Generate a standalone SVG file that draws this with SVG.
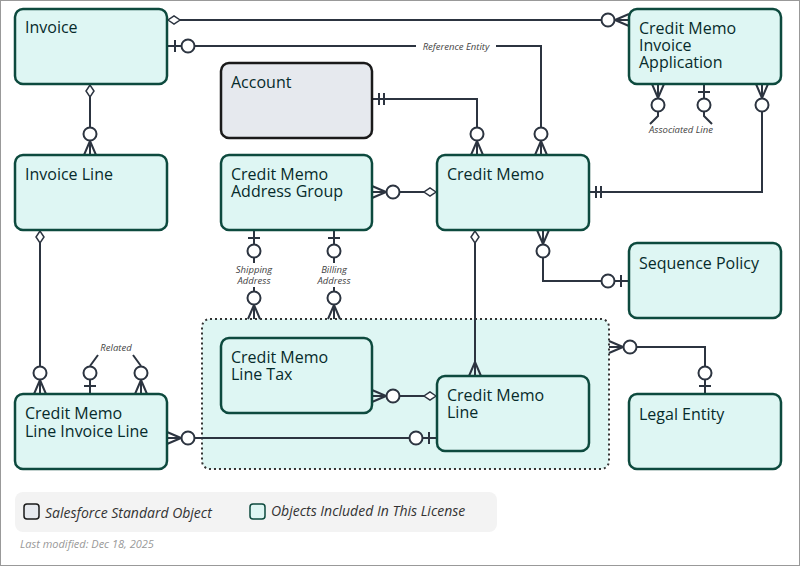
<svg xmlns="http://www.w3.org/2000/svg" width="800" height="566" viewBox="0 0 800 566">
<style>
.n{fill:#def6f3;stroke:#0d4a3e;stroke-width:2.5}
.a{fill:#e6e9ee;stroke:#1a1a1a;stroke-width:2.5}
.t{font-family:"Open Sans","Noto Sans",sans-serif;font-size:16px;fill:#062b2b}
.l{fill:none;stroke:#2c3440;stroke-width:2}
.lb{font-family:"Open Sans","Noto Sans",sans-serif;font-size:9.5px;font-style:italic;fill:#444}
.d{fill:none;stroke:#2c3440;stroke-width:2}
</style>
<defs>
<g id="crowO" class="d"><path d="M0,-14L-6,0M0,-14L0,0M0,-14L6,0"/><circle cx="0" cy="-21" r="6.5" fill="#fff"/></g>
<g id="crow" class="d"><path d="M0,-14L-6,0M0,-14L0,0M0,-14L6,0"/></g>
<g id="barO" class="d"><path d="M-6,-8H6M0,0V-14"/><circle cx="0" cy="-21" r="6.5" fill="#fff"/></g>
<g id="bars" class="d"><path d="M-6,-7H6M-6,-12H6M0,0V-14"/></g>
<g id="dia" class="d"><path d="M0,-1L4,-7L0,-13L-4,-7Z" fill="#fff" stroke-width="1.5"/></g>
</defs>
<rect x="0.5" y="0.5" width="799" height="565" fill="#fff" stroke="#999"/>
<rect x="202" y="319" width="407" height="150" rx="8" fill="#def6f3" stroke="#333" stroke-width="2" stroke-dasharray="2 3"/>
<g id="connectors">
<path class="l" d="M180,20H602"/>
<path class="l" d="M194,46H541V134"/>
<path class="l" d="M386,99H477V134"/>
<path class="l" d="M762,111V192H603"/>
<path class="l" d="M658,111V116L650,124M704,111V116L712,124"/>
<text class="lb" x="681" y="133" text-anchor="middle">Associated Line</text>
<path class="l" d="M90,97V134"/>
<path class="l" d="M400,192H424"/>
<path class="l" d="M254,258V263M254,287V291M334,258V263M334,287V291"/>
<text class="lb" x="254" y="273" text-anchor="middle">Shipping</text>
<text class="lb" x="254" y="284" text-anchor="middle">Address</text>
<text class="lb" x="334" y="273" text-anchor="middle">Billing</text>
<text class="lb" x="334" y="284" text-anchor="middle">Address</text>
<path class="l" d="M475,243V376"/>
<path class="l" d="M543,258V281H608"/>
<path class="l" d="M400,396H424"/>
<path class="l" d="M195,438H409"/>
<path class="l" d="M637,347H705V373"/>
<path class="l" d="M40,243V373"/>
<path class="l" d="M90,366L98,355M141,366L133,355"/>
<text class="lb" x="116" y="351" text-anchor="middle">Related</text>
<rect x="416" y="40" width="80" height="12" fill="#fff"/>
<text class="lb" x="456" y="50" text-anchor="middle">Reference Entity</text>
<use href="#dia" transform="translate(167,20) rotate(90)"/>
<use href="#crowO" transform="translate(629,20) rotate(-90)"/>
<use href="#barO" transform="translate(167,46) rotate(90)"/>
<use href="#crowO" transform="translate(541,155)"/>
<use href="#bars" transform="translate(372,99) rotate(90)"/>
<use href="#crowO" transform="translate(477,155)"/>
<use href="#crowO" transform="translate(658,84) rotate(180)"/>
<use href="#barO" transform="translate(704,84) rotate(180)"/>
<use href="#crowO" transform="translate(762,84) rotate(180)"/>
<use href="#bars" transform="translate(589,192) rotate(90)"/>
<use href="#dia" transform="translate(90,84) rotate(180)"/>
<use href="#crowO" transform="translate(90,155)"/>
<use href="#crowO" transform="translate(372,192) rotate(90)"/>
<use href="#dia" transform="translate(437,192) rotate(-90)"/>
<use href="#barO" transform="translate(254,230) rotate(180)"/>
<use href="#barO" transform="translate(334,230) rotate(180)"/>
<use href="#crowO" transform="translate(254,319)"/>
<use href="#crowO" transform="translate(334,319)"/>
<use href="#dia" transform="translate(475,230) rotate(180)"/>
<use href="#crow" transform="translate(475,376)"/>
<use href="#crowO" transform="translate(543,230) rotate(180)"/>
<use href="#barO" transform="translate(629,281) rotate(-90)"/>
<use href="#crowO" transform="translate(372,396) rotate(90)"/>
<use href="#dia" transform="translate(437,396) rotate(-90)"/>
<use href="#crowO" transform="translate(167,438) rotate(90)"/>
<use href="#barO" transform="translate(437,438) rotate(-90)"/>
<use href="#crowO" transform="translate(609,347) rotate(90)"/>
<use href="#barO" transform="translate(705,394)"/>
<use href="#dia" transform="translate(40,230) rotate(180)"/>
<use href="#crowO" transform="translate(40,394)"/>
<use href="#barO" transform="translate(90,394)"/>
<use href="#crowO" transform="translate(141,394)"/>
</g>
<g id="invoice"><rect class="n" x="15" y="9" width="152" height="75" rx="8"/><text class="t" x="25" y="33">Invoice</text></g>
<g id="cmia"><rect class="n" x="629" y="9" width="152" height="75" rx="8"/><text class="t" x="639" y="34">Credit Memo</text><text class="t" x="639" y="51">Invoice</text><text class="t" x="639" y="68">Application</text></g>
<g id="account"><rect class="a" x="221" y="63" width="151" height="75" rx="8"/><text class="t" x="231" y="88">Account</text></g>
<g id="invoiceline"><rect class="n" x="15" y="155" width="152" height="75" rx="8"/><text class="t" x="25" y="180">Invoice Line</text></g>
<g id="cmag"><rect class="n" x="221" y="155" width="151" height="75" rx="8"/><text class="t" x="231" y="180">Credit Memo</text><text class="t" x="231" y="197">Address Group</text></g>
<g id="cm"><rect class="n" x="437" y="155" width="152" height="75" rx="8"/><text class="t" x="447" y="180">Credit Memo</text></g>
<g id="seqpolicy"><rect class="n" x="629" y="243" width="152" height="75" rx="8"/><text class="t" x="639" y="269">Sequence Policy</text></g>
<g id="cmlt"><rect class="n" x="221" y="338" width="151" height="75" rx="8"/><text class="t" x="231" y="363">Credit Memo</text><text class="t" x="231" y="380">Line Tax</text></g>
<g id="cml"><rect class="n" x="437" y="376" width="152" height="75" rx="8"/><text class="t" x="447" y="401">Credit Memo</text><text class="t" x="447" y="418">Line</text></g>
<g id="legalentity"><rect class="n" x="629" y="394" width="152" height="75" rx="8"/><text class="t" x="639" y="420">Legal Entity</text></g>
<g id="cmlil"><rect class="n" x="15" y="394" width="152" height="75" rx="8"/><text class="t" x="25" y="419">Credit Memo</text><text class="t" x="25" y="437">Line Invoice Line</text></g>
<g id="legend">
<rect x="15" y="492" width="482" height="40" rx="8" fill="#f3f3f3"/>
<rect x="24" y="504" width="15" height="15" rx="3" fill="#e6e9ee" stroke="#1a1a1a" stroke-width="1.5"/>
<text x="45" y="518" font-family="Open Sans,Noto Sans,sans-serif" font-size="14" font-style="italic" fill="#333">Salesforce Standard Object</text>
<rect x="250" y="504" width="15" height="15" rx="3" fill="#def6f3" stroke="#0d4a3e" stroke-width="1.5"/>
<text x="271" y="516" font-family="Open Sans,Noto Sans,sans-serif" font-size="14" font-style="italic" fill="#333">Objects Included In This License</text>
<text x="20" y="548" font-family="Open Sans,Noto Sans,sans-serif" font-size="11" font-style="italic" fill="#999">Last modified: Dec 18, 2025</text>
</g>
</svg>
